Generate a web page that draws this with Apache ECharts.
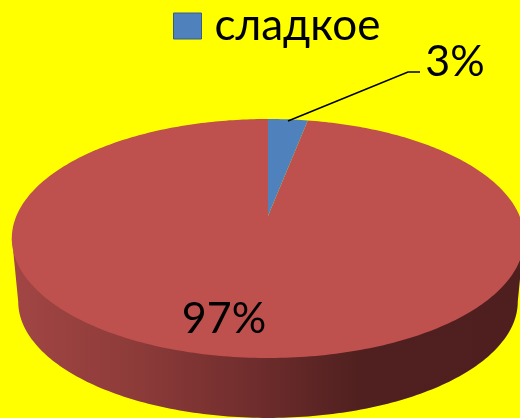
<!DOCTYPE html>
<html>
<head>
<meta charset="utf-8">
<style>
  html, body { margin: 0; padding: 0; background: #ffff00; }
  #chart { width: 520px; height: 418px; }
</style>
</head>
<body>
<div id="chart"></div>
<script src="https://cdn.jsdelivr.net/npm/echarts@6/dist/echarts.min.js"></script>
<script>
const categories = ['сладкое', 'другое']
const shareValues = [3, 97]
const sliceColors = ['#4f81bd', '#be504d']

const font = 'Lato'

// tilted disc: far rim y 119, centre y 216, near rim y 358
const disc = { x: 268, y: 216, width: 251.6, near: 142, far: 97, depth: 63.5, bottomScale: 0.975 }
// perspective factor and vertical scale that put the three y values above on the rim
const k = (disc.near - disc.far) / (disc.near + disc.far)
const vert = 2 * disc.near * disc.far / (disc.near + disc.far)

function rimPoint(theta, scale, dy) {
  const w = 1 + k * Math.cos(theta)
  return [
    disc.x + scale * disc.width * Math.sin(theta) / w,
    disc.y + dy - scale * vert * Math.cos(theta) / w
  ]
}

function arcPoints(from, to, scale, dy) {
  const pts = []
  const steps = Math.max(2, Math.ceil((to - from) * 60))
  for (let i = 0; i <= steps; i++) {
    pts.push(rimPoint(from + (to - from) * i / steps, scale, dy))
  }
  return pts
}

function sliceAngles(index) {
  const total = shareValues.reduce((a, b) => a + b, 0)
  const before = shareValues.slice(0, index).reduce((a, b) => a + b, 0)
  return [before / total * Math.PI * 2, (before + shareValues[index]) / total * Math.PI * 2]
}

function renderSlice(params, api) {
  const index = params.seriesIndex
  const [start, end] = sliceAngles(index)
  const children = []

  // wall: only the part of the rim that faces the viewer
  const frontFrom = Math.PI - Math.asin(Math.sqrt(1 - k * k))
  const frontTo = Math.PI * 2 - frontFrom
  const wallFrom = Math.max(start, frontFrom)
  const wallTo = Math.min(end, frontTo)
  if (wallTo > wallFrom) {
    children.push({
      type: 'polygon',
      shape: {
        // upper edge lifted under the top face so no seam shows
        points: arcPoints(wallFrom, wallTo, 1, -1.5)
          .concat(arcPoints(wallFrom, wallTo, disc.bottomScale, disc.depth).reverse())
      },
      style: {
        fill: new echarts.graphic.LinearGradient(0, 0, 1, 0, [
          { offset: 0, color: '#a24644' },
          { offset: 0.25, color: '#8c3b39' },
          { offset: 0.5, color: '#6c2b2b' },
          { offset: 0.68, color: '#4f201f' },
          { offset: 1, color: '#4e1f1e' }
        ])
      }
    })
  }

  children.push({
    type: 'polygon',
    shape: { points: [[disc.x, disc.y]].concat(arcPoints(start, end, 1, 0)) },
    style: { fill: sliceColors[index] }
  })

  const label = shareValues[index] + '%'
  if (index === 0) {
    children.push({
      type: 'polyline',
      shape: { points: [[288, 121], [408, 72], [420, 72]] },
      style: { stroke: '#000', lineWidth: 1.5, fill: null }
    })
    children.push({
      type: 'text',
      style: { text: label, x: 455, y: 62, align: 'center', verticalAlign: 'middle', font: '43px ' + font, fill: '#000' }
    })
  } else {
    children.push({
      type: 'text',
      style: { text: label, x: 224, y: 319, align: 'center', verticalAlign: 'middle', font: '43px ' + font, fill: '#000' }
    })
  }
  return { type: 'group', children }
}

const chart = echarts.init(document.getElementById('chart'), null, { renderer: 'canvas' })
chart.setOption({
  backgroundColor: '#ffff00',
  animation: false,
  legend: {
    data: [categories[0]],
    left: 168,
    top: -1,
    icon: 'rect',
    itemWidth: 28,
    itemHeight: 26,
    itemGap: 0,
    itemStyle: { borderColor: '#385d8a', borderWidth: 1 },
    textStyle: { fontFamily: font, fontSize: 44, color: '#000', padding: [0, 0, 0, 8] }
  },
  series: categories.map((name, i) => ({
    type: 'custom',
    name,
    coordinateSystem: 'none',
    silent: true,
    z: 2 + (categories.length - i),
    itemStyle: { color: sliceColors[i] },
    data: [shareValues[i]],
    renderItem: renderSlice
  }))
})
</script>
</body>
</html>
